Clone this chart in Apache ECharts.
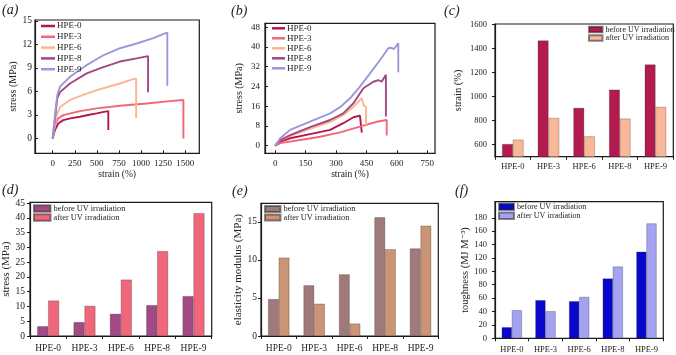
<!DOCTYPE html>
<html>
  <head>
    <meta charset="UTF-8" />
    <script src="https://cdn.jsdelivr.net/npm/echarts@6/dist/echarts.min.js"></script>
  </head>
  <body style="margin:0;background:#fff">
    <div id="main"></div>
    <script>
      const width = 676;
      const height = 355;
      const main = document.getElementById('main');
      main.style.width = `${width}px`;
      main.style.height = `${height}px`;

      const names = ['HPE-0', 'HPE-3', 'HPE-6', 'HPE-8', 'HPE-9'];

      // (a) stress-strain curves, [strain %, stress MPa]
      const a0 = [[0, 0], [26, 1.06], [63, 1.9], [120, 2.33], [200, 2.55], [309, 2.76], [400, 2.98], [498, 3.19], [580, 3.38], [630, 3.48], [630, 1.06]];
      const a3 = [[0, 0], [26, 1.7], [63, 2.55], [120, 2.97], [200, 3.2], [309, 3.48], [498, 3.83], [762, 4.16], [1064, 4.46], [1328, 4.76], [1480, 4.9], [1480, 0]];
      const a6 = [[0, 0], [26, 1.7], [45, 2.97], [83, 4.0], [196, 4.9], [385, 5.7], [573, 6.4], [762, 7.0], [912, 7.56], [945, 7.6], [945, 2.6]];
      const a8 = [[0, 0], [26, 2.55], [52, 5.1], [83, 5.9], [196, 7.0], [385, 8.3], [573, 9.1], [762, 9.8], [951, 10.2], [1080, 10.5], [1080, 5.9]];
      const a9 = [[0, 0], [26, 2.97], [52, 5.5], [83, 6.6], [196, 7.86], [385, 9.35], [573, 10.6], [762, 11.5], [951, 12.1], [1139, 12.8], [1271, 13.4], [1298, 13.5], [1298, 6.7]];

      // (b) stress-strain curves after UV
      const b0 = [[0, 0], [25, 1.6], [74, 3.0], [172, 4.7], [271, 6.4], [336, 9.1], [386, 11.5], [418, 12.2], [427, 11.8], [427, 5.3]];
      const b3 = [[0, 0], [25, 1.0], [123, 2.3], [222, 3.6], [320, 5.4], [418, 7.7], [501, 9.7], [550, 10.4], [550, 4.1]];
      const b6 = [[0, 0], [25, 2.2], [74, 3.9], [172, 6.8], [271, 9.6], [336, 12.4], [386, 15.8], [427, 19.2], [438, 16.1], [448, 15.8], [448, 8.4]];
      const b8 = [[0, 0], [25, 2.3], [74, 4.3], [172, 7.5], [271, 10.4], [336, 13.1], [386, 17.2], [435, 23.3], [484, 25.9], [509, 26.6], [525, 25.9], [546, 28.7], [546, 11.8]];
      const b9 = [[0, 0], [25, 3.0], [74, 6.4], [172, 9.7], [271, 13.1], [320, 15.6], [369, 19.2], [418, 23.9], [468, 29.3], [517, 34.7], [558, 39.5], [574, 39.7], [585, 39.1], [607, 41.5], [607, 29.8]];

      // bar panels
      const strainBefore = [605, 1467, 906, 1058, 1267];
      const strainAfter = [642, 822, 669, 817, 914];
      const stressBefore = [3.3, 4.7, 7.5, 10.45, 13.5];
      const stressAfter = [12.0, 10.2, 19.1, 28.75, 41.6];
      const modulusBefore = [4.85, 6.66, 8.1, 15.6, 11.5];
      const modulusAfter = [10.3, 4.24, 1.63, 11.4, 14.5];
      const toughBefore = [16.5, 56.9, 55.4, 89.3, 129.2];
      const toughAfter = [41.9, 40.4, 61.8, 107.2, 171.6];

      // tick labels
      const ticksAX = [0, 250, 500, 750, 1000, 1250, 1500];
      const ticksAY = [0, 3, 6, 9, 12, 15];
      const ticksBX = [0, 150, 300, 450, 600, 750];
      const ticksBY = [0, 8, 16, 24, 32, 40, 48];
      const ticksCY = [600, 800, 1000, 1200, 1400, 1600];
      const ticksDY = [0, 5, 10, 15, 20, 25, 30, 35, 40, 45];
      const ticksEY = [0, 5, 10, 15];
      const ticksFY = [0, 20, 40, 60, 80, 100, 120, 140, 160, 180];

      const serif = "'Liberation Serif', 'DejaVu Serif', serif";
      const ink = '#1a1a1a';
      const lineColors = ['#b3164f', '#f2667a', '#fbb690', '#a0487f', '#9d96da'];

      function valueAxis(gridIndex, min, max, ticks, o) {
        return {
          type: 'value',
          gridIndex,
          min,
          max,
          axisLine: { show: true, onZero: false, lineStyle: { color: ink, width: 1.2 } },
          axisTick: { show: true, inside: !!o.inside, length: 3, customValues: ticks, lineStyle: { color: ink } },
          axisLabel: {
            customValues: ticks,
            formatter: (v) => String(v),
            fontFamily: serif, fontSize: o.fs, color: '#222', margin: o.margin,
          },
          splitLine: { show: false },
          name: o.name,
          nameLocation: 'middle',
          nameGap: o.gap,
          nameTextStyle: { fontFamily: serif, fontSize: o.nfs, color: '#222' },
        };
      }

      function catAxis(gridIndex, fs, margin) {
        return {
          type: 'category',
          gridIndex,
          data: names,
          axisLine: { show: true, lineStyle: { color: ink, width: 1.2 } },
          axisTick: { show: true, length: 3, lineStyle: { color: ink } },
          axisLabel: { fontFamily: serif, fontSize: fs, color: '#222', margin },
        };
      }

      function frame(left, top, w, h) {
        return {
          left, top, width: w, height: h,
          show: true, borderColor: ink, borderWidth: 1.2,
          backgroundColor: 'transparent', outerBoundsMode: 'none',
        };
      }

      function lineSeries(name, data, color, idx) {
        return {
          name, type: 'line', data, xAxisIndex: idx, yAxisIndex: idx,
          showSymbol: false, symbol: 'none',
          lineStyle: { color, width: 1.9 }, itemStyle: { color },
        };
      }

      function barSeries(name, data, color, idx) {
        return {
          name, type: 'bar', data, xAxisIndex: idx, yAxisIndex: idx,
          barGap: '0%', barCategoryGap: '40%',
          itemStyle: { color, borderColor: 'rgba(40,40,40,0.55)', borderWidth: 0.5 },
        };
      }

      function barLegend(tag, left, top, iw, ih, fs) {
        return {
          left, top, orient: 'vertical', icon: 'rect',
          itemWidth: iw, itemHeight: ih, itemGap: 0.5, padding: 0,
          data: ['before UV irradiation|' + tag, 'after UV irradiation|' + tag],
          formatter: (n) => n.split('|')[0],
          textStyle: { fontFamily: serif, fontSize: fs, lineHeight: 8, color: '#222', padding: [0, 0, 0, -2] },
        };
      }

      function lineLegend(left, top, iw, gap) {
        return {
          left, top, orient: 'vertical', icon: 'rect',
          itemWidth: iw, itemHeight: 2.5, itemGap: gap, padding: 0,
          data: names,
          textStyle: { fontFamily: serif, fontSize: 9, lineHeight: 9, color: '#222', padding: [0, 0, 0, -3] },
        };
      }

      function label(text, left, top) {
        return {
          text, left, top, padding: 0,
          textStyle: { fontFamily: serif, fontStyle: 'italic', fontWeight: 'normal', fontSize: 14, color: '#222' },
        };
      }

      const curvesA = [a0, a3, a6, a8, a9];
      const curvesB = [b0, b3, b6, b8, b9];

      const series = [];
      names.forEach((n, i) => series.push(lineSeries(n, curvesA[i], lineColors[i], 0)));
      names.forEach((n, i) => series.push(lineSeries(n, curvesB[i], lineColors[i], 1)));
      series.push(barSeries('before UV irradiation|c', strainBefore, '#b21a50', 2));
      series.push(barSeries('after UV irradiation|c', strainAfter, '#f9b898', 2));
      series.push(barSeries('before UV irradiation|d', stressBefore, '#a24a85', 3));
      series.push(barSeries('after UV irradiation|d', stressAfter, '#f0667a', 3));
      series.push(barSeries('before UV irradiation|e', modulusBefore, '#a07a7a', 4));
      series.push(barSeries('after UV irradiation|e', modulusAfter, '#cb9475', 4));
      series.push(barSeries('before UV irradiation|f', toughBefore, '#0808cc', 5));
      series.push(barSeries('after UV irradiation|f', toughAfter, '#a3a3f2', 5));

      const myChart = echarts.init(main, null, { renderer: 'canvas' });
      const option = {
        backgroundColor: '#fff',
        animation: false,
        title: [
          label('(a)', 2, 3),
          label('(b)', 231, 4),
          label('(c)', 444, 4),
          label('(d)', 2, 183),
          label('(e)', 232, 184),
          label('(f)', 455, 184),
        ],
        legend: [
          lineLegend(41, 21.5, 14, 1.8),
          lineLegend(272, 23.8, 13, 1),
          barLegend('c', 588, 25.5, 13.5, 5.7, 8),
          barLegend('d', 33, 204.3, 16.5, 6.5, 8.3),
          barLegend('e', 264, 205, 15.5, 6, 8.3),
          barLegend('f', 498, 202.5, 15, 6.5, 8),
        ],
        grid: [
          frame(35, 20, 164.3, 133.3),
          frame(265, 23.3, 170, 130),
          frame(495, 24, 178.3, 132.7),
          frame(30, 202.3, 181.7, 133.7),
          frame(261, 203.3, 177.3, 132.7),
          frame(495, 201.7, 168.3, 136.6),
        ],
        xAxis: [
          valueAxis(0, -200, 1660, ticksAX, { inside: true, fs: 9, margin: 6, name: 'strain (%)', gap: 16, nfs: 9.5 }),
          valueAxis(1, -50, 788, ticksBX, { inside: true, fs: 9, margin: 6, name: 'strain (%)', gap: 15, nfs: 9.5 }),
          catAxis(2, 8.5, 6),
          catAxis(3, 9.5, 7),
          catAxis(4, 9.5, 7),
          catAxis(5, 8.5, 7),
        ],
        yAxis: [
          valueAxis(0, -1.9, 15.1, ticksAY, { inside: true, fs: 9.5, margin: 3, name: 'stress (MPa)', gap: 17, nfs: 10 }),
          valueAxis(1, -3.1, 49.6, ticksBY, { inside: true, fs: 9, margin: 5, name: 'stress (MPa)', gap: 21, nfs: 10 }),
          valueAxis(2, 500, 1605, ticksCY, { fs: 8.5, margin: 8, name: 'strain (%)', gap: 31, nfs: 10.5 }),
          valueAxis(3, 0, 45.3, ticksDY, { fs: 9.5, margin: 5, name: 'stress (MPa)', gap: 18, nfs: 11 }),
          valueAxis(4, 0, 17.45, ticksEY, { fs: 9.5, margin: 4, name: 'elasticity modulus (MPa)', gap: 17, nfs: 11 }),
          valueAxis(5, 0, 204, ticksFY, { fs: 8.5, margin: 8, name: 'toughness (MJ M\u207B\u00B3)', gap: 23, nfs: 10.5 }),
        ],
        series,
      };
      myChart.setOption(option);
    </script>
  </body>
</html>
